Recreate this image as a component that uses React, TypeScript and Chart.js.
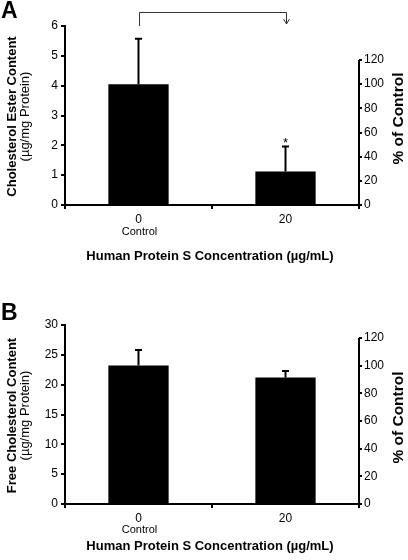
import React, { useEffect, useRef } from "react";
import { Chart, registerables } from "chart.js";
Chart.register(...registerables);

// ---- data ----
const categories = ["0", "20"];
const subLabels = ["Control", ""];
const esterMeans = [4.05, 1.12];
const esterErrs = [1.52, 0.84];
const esterSig = [false, true];
const esterMax = 6;
const esterStep = 1;
const freeMeans = [23.2, 21.2];
const freeErrs = [2.6, 1.1];
const freeSig = [false, false];
const freeMax = 30;
const freeStep = 5;
const pctTop = 120;
const pctStep = 20;
const xTitle = "Human Protein S Concentration (µg/mL)";
const pctTitle = "% of Control";
const unitTitle = "(µg/mg Protein)";

const FONT = "'Liberation Sans', Arial, Helvetica, sans-serif";

type Cfg = {
  letter: string;
  yTitle: string;
  means: number[];
  errs: number[];
  sig: boolean[];
  yMax: number;
  yStep: number;
  bracket: boolean;
  canvasH: number;
  chartTop: number;
  chartBottom: number;
  tickPad: number;
  controlBaseline: number;
  titleBaseline: number;
  letterBaseline: number;
};

function Panel({ cfg, top }: { cfg: Cfg; top: number }) {
  const ref = useRef<HTMLCanvasElement | null>(null);
  useEffect(() => {
    const canvas = ref.current!;
    const pctMax = (cfg.yMax / cfg.means[0]) * 100;
    const extras = {
      id: "extras",
      afterDatasetsDraw(chart: any) {
        const ctx = chart.ctx;
        const xs = chart.scales.x;
        const ys = chart.scales.y;
        const y2 = chart.scales.y2;
        const area = chart.chartArea;
        const meta = chart.getDatasetMeta(0);
        ctx.save();
        // error bars
        ctx.strokeStyle = "#000";
        ctx.lineWidth = 2;
        cfg.means.forEach((m, i) => {
          const bx = meta.data[i].x;
          const yb = ys.getPixelForValue(m);
          const yt = ys.getPixelForValue(m + cfg.errs[i]);
          ctx.beginPath();
          ctx.moveTo(bx, yb);
          ctx.lineTo(bx, yt);
          ctx.moveTo(bx - 3.5, yt);
          ctx.lineTo(bx + 3.5, yt);
          ctx.stroke();
          if (cfg.sig[i]) {
            ctx.fillStyle = "#000";
            ctx.font = `13px ${FONT}`;
            ctx.textAlign = "center";
            ctx.textBaseline = "alphabetic";
            ctx.fillText("*", bx, yt);
          }
        });
        // right axis line (0..120 %)
        const rx = area.right;
        ctx.beginPath();
        ctx.moveTo(rx, y2.getPixelForValue(0) + 1);
        ctx.lineTo(rx, y2.getPixelForValue(pctTop));
        ctx.stroke();
        // bracket with arrow
        if (cfg.bracket) {
          const x0 = Math.round(xs.getPixelForValue(0)) + 0.5;
          const x1 = Math.round(xs.getPixelForValue(1)) + 0.5;
          const yl = area.top - 14 + 0.5;
          ctx.strokeStyle = "#333";
          ctx.lineWidth = 1;
          ctx.beginPath();
          ctx.moveTo(x0, area.top);
          ctx.lineTo(x0, yl);
          ctx.lineTo(x1, yl);
          ctx.lineTo(x1, area.top - 2);
          ctx.moveTo(x1 - 3, area.top - 7);
          ctx.lineTo(x1, area.top - 2);
          ctx.lineTo(x1 + 3, area.top - 7);
          ctx.stroke();
        }
        ctx.restore();
      },
      afterDraw(chart: any) {
        const ctx = chart.ctx;
        const xs = chart.scales.x;
        const area = chart.chartArea;
        const cy = (area.top + area.bottom) / 2;
        ctx.save();
        ctx.fillStyle = "#000";
        // panel letter
        ctx.font = `bold 23px ${FONT}`;
        ctx.textAlign = "left";
        ctx.textBaseline = "alphabetic";
        ctx.fillText(cfg.letter, 1, cfg.letterBaseline);
        // sub labels under ticks
        ctx.font = `11px ${FONT}`;
        ctx.textAlign = "center";
        subLabels.forEach((s, i) => {
          if (s) ctx.fillText(s, xs.getPixelForValue(i) + 1, cfg.controlBaseline);
        });
        // x title
        ctx.font = `bold 13px ${FONT}`;
        ctx.fillText(xTitle, (area.left + area.right) / 2 - 2, cfg.titleBaseline);
        // y titles
        const vtext = (t: string, x: number, y: number, f: string) => {
          ctx.save();
          ctx.translate(x, y);
          ctx.rotate(-Math.PI / 2);
          ctx.font = f;
          ctx.textAlign = "center";
          ctx.textBaseline = "middle";
          ctx.fillText(t, 0, 0);
          ctx.restore();
        };
        vtext(cfg.yTitle, 12, cy + 1, `bold 13px ${FONT}`);
        vtext(unitTitle, 25, cy + 1, `13px ${FONT}`);
        vtext(pctTitle, 399, cy + 3, `bold 15.5px ${FONT}`);
        ctx.restore();
      },
    };

    const chart = new Chart(canvas, {
      type: "bar",
      data: {
        labels: categories,
        datasets: [
          {
            data: cfg.means,
            backgroundColor: "#000",
            borderWidth: 0,
            categoryPercentage: 1,
            barPercentage: 0.41,
          },
        ],
      },
      options: {
        responsive: false,
        animation: false,
        devicePixelRatio: 1,
        layout: { padding: { top: cfg.chartTop, left: 0, right: 0, bottom: 0 } },
        plugins: { legend: { display: false }, tooltip: { enabled: false } },
        scales: {
          x: {
            afterFit: (s: any) => {
              s.height = cfg.canvasH - cfg.chartBottom;
            },
            grid: {
              offset: true,
              drawOnChartArea: false,
              drawTicks: true,
              tickLength: 4,
              color: "#000",
              lineWidth: 2,
            },
            border: { display: true, color: "#000", width: 2 },
            ticks: {
              color: "#000",
              font: { family: FONT, size: 12 },
              padding: cfg.tickPad,
              maxRotation: 0,
            },
          },
          y: {
            position: "left",
            min: 0,
            max: cfg.yMax,
            afterFit: (s: any) => {
              s.width = 65;
            },
            grid: {
              drawOnChartArea: false,
              tickLength: 4,
              color: "#000",
              lineWidth: 2,
            },
            border: { display: true, color: "#000", width: 2 },
            ticks: {
              stepSize: cfg.yStep,
              color: "#000",
              font: { family: FONT, size: 12 },
              padding: 3,
            },
          },
          y2: {
            position: "right",
            min: 0,
            max: pctMax,
            afterFit: (s: any) => {
              s.width = 49;
            },
            afterBuildTicks: (s: any) => {
              s.ticks = s.ticks.filter((t: any) => t.value <= pctTop + 0.001);
            },
            grid: {
              drawOnChartArea: false,
              tickLength: 3,
              color: "#000",
              lineWidth: 2,
            },
            border: { display: false },
            ticks: {
              stepSize: pctStep,
              includeBounds: false,
              color: "#000",
              font: { family: FONT, size: 12 },
              padding: 2,
            },
          },
        },
      },
      plugins: [extras],
    } as any);
    return () => chart.destroy();
  }, [cfg]);
  return (
    <canvas
      ref={ref}
      width={408}
      height={cfg.canvasH}
      style={{ position: "absolute", left: 0, top, width: 408, height: cfg.canvasH }}
    />
  );
}

const cfgA: Cfg = {
  letter: "A",
  yTitle: "Cholesterol Ester Content",
  means: esterMeans,
  errs: esterErrs,
  sig: esterSig,
  yMax: esterMax,
  yStep: esterStep,
  bracket: true,
  canvasH: 280,
  chartTop: 26,
  chartBottom: 205,
  tickPad: 3,
  controlBaseline: 235,
  titleBaseline: 260,
  letterBaseline: 18,
};

const cfgB: Cfg = {
  letter: "B",
  yTitle: "Free Cholesterol Content",
  means: freeMeans,
  errs: freeErrs,
  sig: freeSig,
  yMax: freeMax,
  yStep: freeStep,
  bracket: false,
  canvasH: 280,
  chartTop: 45,
  chartBottom: 224,
  tickPad: 3,
  controlBaseline: 253,
  titleBaseline: 270,
  letterBaseline: 40,
};

export default function App() {
  return (
    <div style={{ position: "absolute", left: 0, top: 0, width: 408, height: 560, background: "#fff" }}>
      <Panel cfg={cfgA} top={0} />
      <Panel cfg={cfgB} top={280} />
    </div>
  );
}
